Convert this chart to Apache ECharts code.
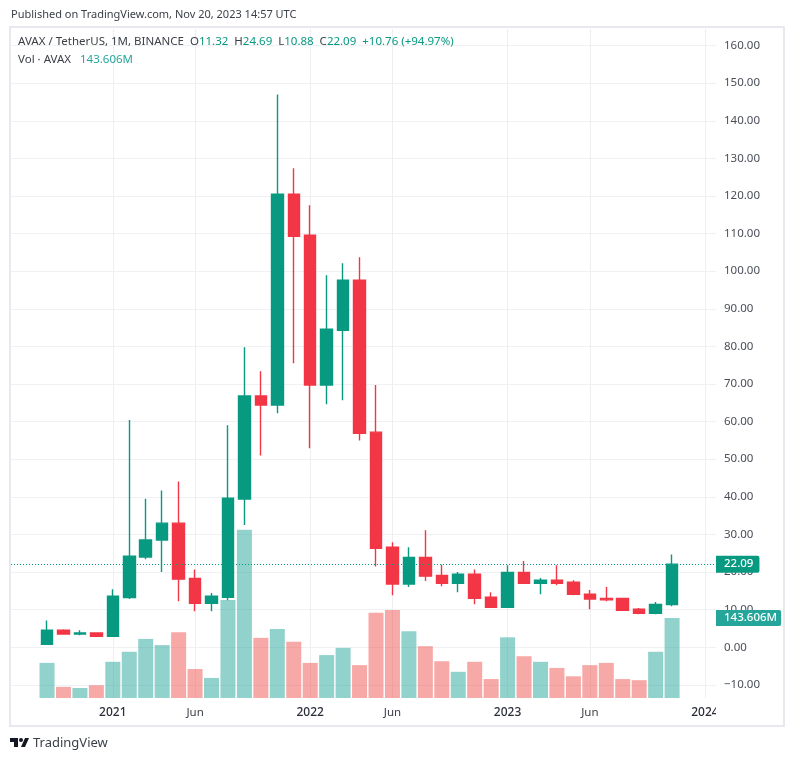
<!DOCTYPE html>
<html>
<head>
<meta charset="utf-8">
<style>
html, body { margin: 0; padding: 0; background: #fff; }
#main { width: 794px; height: 761px; }
</style>
<script src="https://cdn.jsdelivr.net/npm/echarts@6/dist/echarts.min.js"></script>
</head>
<body>
<div id="main"></div>
<script>
// monthly candles, Sep 2020 .. Nov 2023
var months = ['2020-09','2020-10','2020-11','2020-12','2021-01','2021-02','2021-03','2021-04','2021-05','2021-06','2021-07','2021-08','2021-09','2021-10','2021-11','2021-12','2022-01','2022-02','2022-03','2022-04','2022-05','2022-06','2022-07','2022-08','2022-09','2022-10','2022-11','2022-12','2023-01','2023-02','2023-03','2023-04','2023-05','2023-06','2023-07','2023-08','2023-09','2023-10','2023-11'];
var open_ = [0.8,4.5,3.5,3.8,2.9,13.2,24,28.5,33,18.3,11.7,13.3,39.4,66.8,64.4,120.5,109.6,69.7,84.3,97.6,57.2,26.6,16.8,23.9,19.1,17,19.4,13.3,10.6,19.9,17,17.8,17.3,14.1,13,13,10.1,9,11.32];
var close_ = [4.5,3.5,3.8,2.9,13.6,24.2,28.5,33,18.1,11.7,13.6,39.6,66.8,64.4,120.5,109.3,69.7,84.6,97.6,56.9,26.3,16.8,23.9,18.9,17,19.4,13,10.6,19.9,17,17.8,17,14.1,12.8,12.6,9.8,9,11.4,22.09];
var low_ = [0.8,3.4,3.2,2.9,2.9,12.8,23.4,20,12.2,9.6,9.6,12.5,32.5,51,62.2,75.5,52.9,64.6,65.7,55,21.5,13.8,16,17.6,16.2,14.6,11.4,10.6,10.6,17,14.1,16.5,13.8,10.1,12.2,9.8,8.8,8.8,10.88];
var high_ = [7.1,4.8,4.5,4,15.4,60.4,39.5,41.7,44.1,20.7,14.4,59,79.8,73.4,147,127.4,117.5,98.9,102.1,103.7,69.7,27.9,26.6,31.1,22,20,20.7,14.6,21.8,22.9,18.4,21.8,17.8,15.2,16,13,10.4,12,24.69];
var volume = [63,20,18,23,65,83,106,95,118,52,36,176,302,108,124,101,63,77,90,59,153,158,120,93,66,47,65,34,109,75,65,54,39,59,63,34,32,83,143.606];

var priceTicks = [-10,0,10,20,30,40,50,60,70,80,90,100,110,120,130,140,150,160];
var timeTicks = [4,9,16,21,28,33,40];
var timeLabels = ['2021','Jun','2022','Jun','2023','Jun','2024'];

var upColor = '#089981';
var downColor = '#f23645';
var gridColor = '#f0f1f4';
var font = '"Noto Sans", sans-serif';

var candles = months.map(function (m, i) {
    return [i, open_[i], close_[i], low_[i], high_[i]];
});
var volBars = months.map(function (m, i) {
    return {
        value: [i, volume[i]],
        itemStyle: { color: close_[i] >= open_[i] ? 'rgba(38,166,154,0.5)' : 'rgba(239,83,80,0.5)' }
    };
});

var myChart = echarts.init(document.getElementById('main'));
myChart.setOption({
    animation: false,
    backgroundColor: '#fff',
    textStyle: { fontFamily: font },
    title: [{
        text: 'Published on TradingView.com, Nov 20, 2023 14:57 UTC',
        left: 6, top: 4,
        textStyle: { fontSize: 11, fontWeight: 'normal', color: '#3c4048', fontFamily: font }
    }, {
        text: '{l|AVAX / TetherUS, 1M, BINANCE  O}{v|11.32}{l|  H}{v|24.69}{l|  L}{v|10.88}{l|  C}{v|22.09}{v|  +10.76 (+94.97%)}',
        left: 13, top: 31,
        textStyle: {
            fontWeight: 'normal',
            rich: {
                l: { fontSize: 11.5, color: '#3c4048', fontFamily: font },
                v: { fontSize: 11.5, color: upColor, fontFamily: font }
            }
        }
    }, {
        text: '{l|Vol · AVAX}{v|   143.606M}',
        left: 13, top: 49,
        textStyle: {
            fontWeight: 'normal',
            rich: {
                l: { fontSize: 11.5, color: '#3c4048', fontFamily: font },
                v: { fontSize: 11.5, color: '#26a69a', fontFamily: font }
            }
        }
    }],
    grid: { left: 11, right: 78, top: 29, bottom: 63 },
    xAxis: {
        type: 'value',
        min: -2.19,
        max: 40.67,
        axisLine: { show: false },
        axisTick: { show: false, customValues: timeTicks },
        splitLine: { show: true, lineStyle: { color: '#eeeef1', width: 1 } },
        axisLabel: {
            customValues: timeTicks,
            margin: 9,
            formatter: function (v) {
                var s = timeLabels[timeTicks.indexOf(v)];
                return s.length === 4 ? '{y|' + s + '}' : '{m|' + s + '}';
            },
            rich: {
                y: { fontSize: 12, fontWeight: 500, color: '#2a2e39', fontFamily: font },
                m: { fontSize: 11.5, color: '#3c4048', fontFamily: font }
            }
        }
    },
    yAxis: [{
        type: 'value',
        position: 'right',
        min: -13.5,
        max: 164.4,
        axisLine: { show: false },
        axisTick: { show: false, customValues: priceTicks },
        splitLine: { show: true, lineStyle: { color: gridColor, width: 1 } },
        axisLabel: {
            customValues: priceTicks,
            margin: 8,
            fontSize: 11.5,
            padding: [2, 0, 0, 0],
            color: '#4a4e58',
            fontFamily: font,
            formatter: function (v) {
                return v < 0 ? '\u2212' + (-v).toFixed(2) : v.toFixed(2);
            }
        }
    }, {
        // volume overlay, only shares the bottom of the pane
        type: 'value',
        min: 0,
        max: 1201,
        show: false,
        splitLine: { show: false }
    }],
    series: [{
        name: 'Vol',
        type: 'bar',
        yAxisIndex: 1,
        barWidth: 15,
        z: 1,
        data: volBars,
        markLine: {
            silent: true,
            symbol: 'none',
            lineStyle: { color: 'transparent', width: 0 },
            data: [{ yAxis: 143.606 }],
            label: {
                position: 'end',
                distance: 0,
                formatter: '143.606M',
                color: '#fff',
                fontSize: 11.5,
                fontWeight: 500,
                fontFamily: font,
                backgroundColor: '#26a69a',
                padding: [3, 4, 1, 8],
                borderRadius: [0, 2, 2, 0]
            }
        }
    }, {
        name: 'AVAX',
        type: 'candlestick',
        barWidth: 12,
        z: 3,
        itemStyle: {
            color: upColor,
            color0: downColor,
            borderColor: upColor,
            borderColor0: downColor,
            borderWidth: 1.4
        },
        data: candles,
        markLine: {
            silent: true,
            symbol: 'none',
            lineStyle: { color: upColor, type: [1, 2], width: 1 },
            data: [{ yAxis: 22.09 }],
            label: {
                position: 'end',
                distance: 0,
                formatter: '22.09',
                color: '#fff',
                fontSize: 11.5,
                fontWeight: 500,
                fontFamily: font,
                backgroundColor: upColor,
                padding: [3, 6, 2, 8],
                borderRadius: [0, 2, 2, 0]
            }
        }
    }],
    graphic: [{
        // cuts the 2024 label at the price scale
        type: 'rect',
        z: 50,
        shape: { x: 716, y: 700, width: 66, height: 24 },
        style: { fill: '#fff' }
    }, {
        type: 'rect',
        z: 51,
        shape: { x: 10, y: 27, width: 774, height: 699 },
        style: { fill: 'none', stroke: '#e8e9ef', lineWidth: 2 }
    }, {
        type: 'polygon',
        z: 51,
        shape: { points: [[10, 738], [18, 738], [18, 747], [14, 747], [14, 742], [10, 742]] },
        style: { fill: '#131722' }
    }, {
        type: 'circle',
        z: 51,
        shape: { cx: 21, cy: 740, r: 2 },
        style: { fill: '#131722' }
    }, {
        type: 'polygon',
        z: 51,
        shape: { points: [[25, 738], [29, 738], [25, 747], [21, 747]] },
        style: { fill: '#131722' }
    }, {
        type: 'text',
        z: 51,
        x: 33, y: 737,
        style: { text: 'TradingView', fontSize: 13, fontFamily: font, fill: '#3c4048' }
    }]
});
</script>
</body>
</html>
